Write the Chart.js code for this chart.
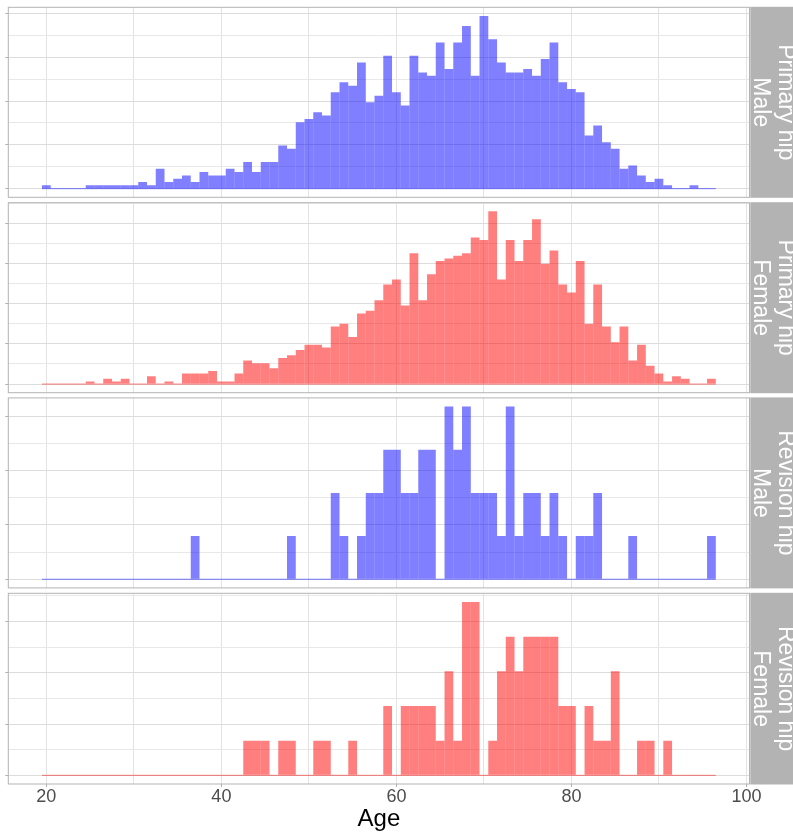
<!DOCTYPE html>
<html>
<head>
<meta charset="utf-8">
<script src="https://cdn.jsdelivr.net/npm/chart.js@4.4.0/dist/chart.umd.min.js"></script>
<style>
  body { margin: 0; background: #ffffff; }
  #wrap { position: relative; width: 793px; height: 833px; overflow: hidden; background: #ffffff; }
  #wrap canvas { position: absolute; left: 0; }
</style>
</head>
<body>
<div id="wrap">
  <canvas id="panel1"></canvas>
  <canvas id="panel2"></canvas>
  <canvas id="panel3"></canvas>
  <canvas id="panel4"></canvas>
</div>
<script>
'use strict';

// age bins (width 1 year)
var ages = [20,21,22,23,24,25,26,27,28,29,30,31,32,33,34,35,36,37,38,39,
  40,41,42,43,44,45,46,47,48,49,50,51,52,53,54,55,56,57,58,59,
  60,61,62,63,64,65,66,67,68,69,70,71,72,73,74,75,76,77,78,79,
  80,81,82,83,84,85,86,87,88,89,90,91,92,93,94,95,96];

// counts per bin
var primaryMale = [1,0,0,0,0, 1,1,1,1,1, 1,2,1,6,2, 3,4,2,5,4, 4,6,5,8,5,
  8,8,13,12,20, 21,23,22,29,32, 31,38,26,28,40, 29,25,40,35,34, 44,36,44,49,34,
  52,45,38,35,35, 36,34,39,44,32, 30,29,16,19,14, 12,6,7,4,2, 3,1,0,0,1, 0,0];
var primaryFemale = [0,0,0,0,0, 1,0,2,1,2, 0,0,3,0,1, 0,4,4,4,5, 1,1,4,9,8,
  8,6,10,11,13, 15,15,14,22,23, 18,27,28,32,38, 40,30,50,32,42, 47,48,49,50,56,
  55,66,40,55,47, 55,63,46,51,38, 35,47,23,38,22, 16,22,9,15,7, 4,1,3,2,0, 0,2];
var revisionMale = [0,0,0,0,0, 0,0,0,0,0, 0,0,0,0,0, 0,0,1,0,0, 0,0,0,0,0,
  0,0,0,1,0, 0,0,0,2,1, 0,1,2,2,3, 3,2,2,3,3, 0,4,3,4,2,
  2,2,1,4,1, 2,2,1,2,1, 0,1,1,2,0, 0,0,1,0,0, 0,0,0,0,0, 0,1];
var revisionFemale = [0,0,0,0,0, 0,0,0,0,0, 0,0,0,0,0, 0,0,0,0,0, 0,0,0,1,1,
  1,0,1,1,0, 0,1,1,0,0, 1,0,0,0,2, 0,2,2,2,2, 1,3,1,5,5,
  0,1,3,4,3, 4,4,4,4,2, 2,0,2,1,1, 3,0,0,1,1, 0,1,0,0,0, 0,0];

var panelCounts = [primaryMale, primaryFemale, revisionMale, revisionFemale];
var panelLabels = [['Primary hip', 'Male'], ['Primary hip', 'Female'],
  ['Revision hip', 'Male'], ['Revision hip', 'Female']];
var panelFills = ['rgba(0,0,255,0.5)', 'rgba(255,0,0,0.5)', 'rgba(0,0,255,0.5)', 'rgba(255,0,0,0.5)'];
var yGridSteps = [0.005, 0.005, 0.01, 0.01];
var xTickStep = 10;
var xLabelStep = 20;
var xTitle = 'Age';

// page layout (pixels)
var panelTops = [7.3, 202.7, 397.9, 593.3];
var panelHeight = 190;
var panelLeft = 8.3;
var panelRight = 749.5;
var stripRight = 793;
var pageHeight = 833;
var tickLen = 3;

var fontFamily = '"Liberation Sans", Arial, Helvetica, sans-serif';

function isMajor(context, step){
  if(!context || !context.tick){
    return false;
  }
  return Math.round(context.tick.value / step) % 2 === 0;
}

//draws panel border, facet strip and its text on top of the chart
function facetPlugin(labels){
  return {
    id: 'facet',
    afterDraw: function(chart){
      var ctx = chart.ctx;
      var area = chart.chartArea;
      ctx.save();
      ctx.strokeStyle = '#b3b3b3';
      ctx.lineWidth = 1;
      ctx.strokeRect(area.left, area.top, area.right - area.left, area.bottom - area.top);

      var stripLeft = area.right + 0.8;
      ctx.fillStyle = '#b3b3b3';
      ctx.fillRect(stripLeft, area.top - 0.5, stripRight - stripLeft, area.bottom - area.top + 1);

      ctx.beginPath();
      ctx.rect(stripLeft, area.top, stripRight - stripLeft, area.bottom - area.top);
      ctx.clip();
      ctx.fillStyle = '#ffffff';
      ctx.font = '23px ' + fontFamily;
      ctx.textAlign = 'center';
      ctx.textBaseline = 'alphabetic';
      var midY = (area.top + area.bottom) / 2;
      // first line is furthest from the panel
      var baselines = [779, 753.5];
      for(var k = 0; k < labels.length; k++){
        ctx.save();
        ctx.translate(baselines[k], midY);
        ctx.rotate(Math.PI / 2);
        ctx.fillText(labels[k], 0, 0);
        ctx.restore();
      }
      ctx.restore();
    }
  };
}

function makePanel(i){
  var canvas = document.getElementById('panel' + (i + 1));
  var isLast = i === panelCounts.length - 1;
  var counts = panelCounts[i];

  var total = 0;
  for(var c = 0; c < counts.length; c++){
    total += counts[c];
  }
  //density, bin width is one year
  var bars = [];
  var maxDensity = 0;
  for(var a = 0; a < ages.length; a++){
    var d = counts[a] / total;
    bars.push({x: ages[a], y: d});
    if(d > maxDensity){ maxDensity = d; }
  }
  var baseLine = [{x: ages[0] - 0.5, y: 0}, {x: ages[ages.length - 1] + 0.5, y: 0}];

  //5% expansion of the binned range on each side
  var xMin = ages[0] - 0.5 - 0.05 * (ages.length);
  var xMax = ages[ages.length - 1] + 0.5 + 0.05 * (ages.length);

  var top = Math.floor(panelTops[i]) - 2;
  var bottomEdge = panelTops[i] + panelHeight;
  var canvasHeight = isLast ? pageHeight - top : Math.ceil(bottomEdge) + 2 - top;
  canvas.style.top = top + 'px';
  canvas.width = 793;
  canvas.height = canvasHeight;
  canvas.style.width = '793px';
  canvas.style.height = canvasHeight + 'px';

  var step = yGridSteps[i];

  new Chart(canvas.getContext('2d'), {
    type: 'bar',
    data: {
      datasets: [{
        type: 'line',
        data: baseLine,
        borderColor: panelFills[i],
        borderWidth: 1,
        pointRadius: 0,
        order: 2
      }, {
        data: bars,
        backgroundColor: panelFills[i],
        borderWidth: 0,
        inflateAmount: 0,
        barPercentage: 1,
        categoryPercentage: 1,
        order: 1
      }]
    },
    options: {
      responsive: false,
      animation: false,
      devicePixelRatio: 1,
      layout: {
        padding: {
          left: panelLeft - tickLen,
          right: stripRight - panelRight,
          top: panelTops[i] - top,
          bottom: isLast ? 2 : (top + canvasHeight) - bottomEdge
        }
      },
      plugins: {
        legend: { display: false },
        tooltip: { enabled: false }
      },
      scales: {
        x: {
          type: 'linear',
          min: xMin,
          max: xMax,
          offset: false,
          border: { display: false },
          grid: {
            offset: false,
            color: '#e3e3e3',
            lineWidth: 1,
            drawTicks: isLast,
            tickLength: tickLen,
            tickColor: function(context){
              return isMajor(context, xTickStep) ? '#b3b3b3' : 'rgba(0,0,0,0)';
            }
          },
          ticks: {
            display: isLast,
            stepSize: xTickStep,
            includeBounds: false,
            autoSkip: false,
            maxRotation: 0,
            padding: 1,
            color: '#4d4d4d',
            font: { family: fontFamily, size: 18, lineHeight: 1 },
            callback: function(value){
              return value % xLabelStep === 0 ? String(value) : '';
            }
          },
          title: {
            display: isLast,
            text: xTitle,
            color: '#000000',
            padding: { top: 0, bottom: 0 },
            font: { family: fontFamily, size: 24, lineHeight: 1 }
          }
        },
        y: {
          min: -0.05 * maxDensity,
          max: 1.05 * maxDensity,
          border: { display: false },
          grid: {
            lineWidth: 1,
            color: function(context){
              return isMajor(context, step) ? '#dcdcdc' : '#e8e8e8';
            },
            drawTicks: true,
            tickLength: tickLen,
            tickColor: function(context){
              return isMajor(context, step) ? '#b3b3b3' : 'rgba(0,0,0,0)';
            }
          },
          ticks: {
            display: false,
            stepSize: step,
            includeBounds: false
          }
        }
      }
    },
    plugins: [facetPlugin(panelLabels[i])]
  });
}

for(var p = 0; p < panelCounts.length; p++){
  makePanel(p);
}
</script>
</body>
</html>
